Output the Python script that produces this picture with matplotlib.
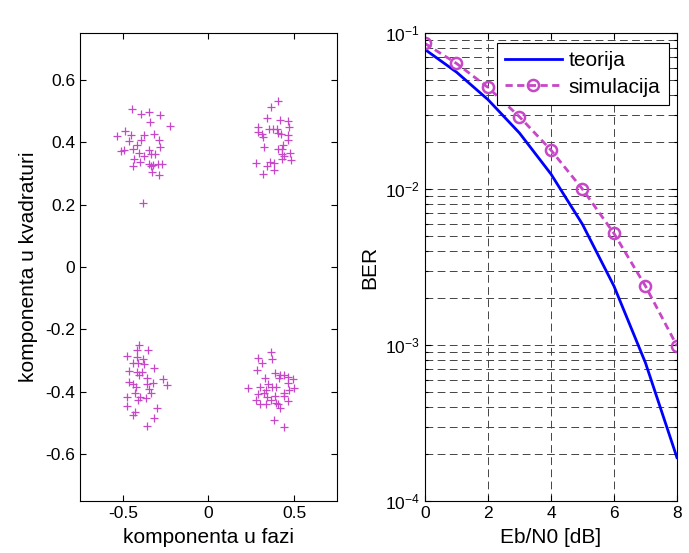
import numpy as np
import matplotlib
matplotlib.use("Agg")
import matplotlib.pyplot as plt
from matplotlib.ticker import LogLocator, NullFormatter

plt.rcParams['font.family'] = ['Liberation Sans', 'DejaVu Sans']
plt.rcParams['mathtext.fontset'] = 'custom'
plt.rcParams['mathtext.rm'] = 'Liberation Sans'
plt.rcParams['mathtext.it'] = 'Liberation Sans:italic'
plt.rcParams['mathtext.bf'] = 'Liberation Sans:bold'

# Received QPSK symbols (in-phase, quadrature)
i_comp = [
    # upper-left cluster
    -0.445, -0.396, -0.349, -0.282, -0.339, -0.224, -0.486, -0.534, -0.455, -0.375,
    -0.318, -0.392, -0.463, -0.290, -0.419, -0.282, -0.510, -0.494, -0.443, -0.404,
    -0.349, -0.334, -0.312, -0.378, -0.435, -0.398, -0.347, -0.324, -0.296, -0.271,
    -0.443, -0.337, -0.331, -0.290, -0.381,
    # upper-right cluster
    0.404, 0.365, 0.341, 0.419, 0.463, 0.290, 0.469, 0.351, 0.376, 0.400,
    0.290, 0.314, 0.408, 0.424, 0.463, 0.318, 0.463, 0.434, 0.322, 0.404,
    0.431, 0.429, 0.475, 0.443, 0.428, 0.484, 0.275, 0.357, 0.384, 0.341,
    0.381, 0.316,
    # lower-left cluster
    -0.404, -0.419, -0.355, -0.478, -0.419, -0.381, -0.443, -0.412, -0.376, -0.318,
    -0.463, -0.416, -0.388, -0.404, -0.357, -0.263, -0.466, -0.439, -0.357, -0.325,
    -0.243, -0.424, -0.345, -0.431, -0.337, -0.475, -0.400, -0.365, -0.412, -0.478,
    -0.302, -0.428, -0.439, -0.318, -0.357,
    # lower-right cluster
    0.365, 0.290, 0.372, 0.310, 0.282, 0.388, 0.419, 0.443, 0.412, 0.466,
    0.329, 0.494, 0.349, 0.463, 0.231, 0.298, 0.369, 0.396, 0.498, 0.471,
    0.337, 0.325, 0.443, 0.290, 0.388, 0.439, 0.341, 0.278, 0.365, 0.466,
    0.298, 0.334, 0.392, 0.404, 0.416, 0.384, 0.443,
]
q_comp = [
    0.506, 0.491, 0.498, 0.488, 0.466, 0.454, 0.436, 0.420, 0.424, 0.424,
    0.427, 0.409, 0.405, 0.409, 0.392, 0.386, 0.372, 0.374, 0.378, 0.366,
    0.375, 0.364, 0.363, 0.355, 0.345, 0.338, 0.332, 0.327, 0.330, 0.330,
    0.324, 0.323, 0.304, 0.294, 0.206,
    0.533, 0.513, 0.478, 0.471, 0.468, 0.449, 0.449, 0.442, 0.443, 0.444,
    0.432, 0.427, 0.430, 0.427, 0.423, 0.416, 0.406, 0.393, 0.386, 0.380,
    0.380, 0.364, 0.365, 0.356, 0.348, 0.343, 0.333, 0.337, 0.334, 0.324,
    0.311, 0.298,
    -0.251, -0.265, -0.266, -0.284, -0.288, -0.296, -0.309, -0.309, -0.311, -0.322,
    -0.333, -0.335, -0.335, -0.346, -0.354, -0.358, -0.369, -0.376, -0.374, -0.371,
    -0.379, -0.386, -0.392, -0.404, -0.403, -0.416, -0.416, -0.419, -0.427, -0.446,
    -0.451, -0.464, -0.474, -0.483, -0.509,
    -0.271, -0.290, -0.296, -0.307, -0.331, -0.341, -0.346, -0.346, -0.354, -0.352,
    -0.356, -0.359, -0.374, -0.371, -0.388, -0.384, -0.384, -0.384, -0.388, -0.395,
    -0.395, -0.404, -0.404, -0.408, -0.412, -0.414, -0.416, -0.427, -0.427, -0.429,
    -0.438, -0.438, -0.436, -0.440, -0.451, -0.490, -0.513,
]

# BER curves
ebn0_db = [0, 1, 2, 3, 4, 5, 6, 7, 8]
ber_teorija = [0.0786, 0.0563, 0.0375, 0.0229, 0.0125, 0.00595, 0.00239, 0.00077, 0.00019]
ber_simulacija = [0.0859, 0.0640, 0.0449, 0.0291, 0.0178, 0.0100, 0.0052, 0.00239, 0.00099]

magenta = '#c846c8'

fig = plt.figure(figsize=(6.89, 5.53), dpi=100)
ax1 = fig.add_axes([0.1161, 0.094, 0.373, 0.846])
ax2 = fig.add_axes([0.6168, 0.094, 0.3657, 0.846])

# constellation
ax1.plot(i_comp, q_comp, '+', color=magenta, markersize=5.5, markeredgewidth=0.9)
ax1.set_xlim(-0.75, 0.75)
ax1.set_ylim(-0.75, 0.75)
ax1.set_xticks([-0.5, 0, 0.5])
ax1.set_xticklabels(['-0.5', '0', '0.5'])
ax1.set_yticks([-0.6, -0.4, -0.2, 0, 0.2, 0.4, 0.6])
ax1.set_yticklabels(['-0.6', '-0.4', '-0.2', '0', '0.2', '0.4', '0.6'])
ax1.set_xlabel('komponenta u fazi', fontsize=15, labelpad=5)
ax1.set_ylabel('komponenta u kvadraturi', fontsize=15, labelpad=5)

# BER
ax2.semilogy(ebn0_db, ber_teorija, '-', color='#0000ff', linewidth=2, label='teorija')
ax2.semilogy(ebn0_db, ber_simulacija, '--o', color=magenta, linewidth=2,
             markersize=8, markerfacecolor='none', markeredgewidth=1.8,
             dashes=(2.6, 1.6), label='simulacija')
ax2.set_xlim(0, 8)
ax2.set_ylim(1e-4, 1e-1)
ax2.set_xticks([0, 2, 4, 6, 8])
ax2.yaxis.set_minor_locator(LogLocator(base=10, subs=np.arange(2, 10)))
ax2.yaxis.set_minor_formatter(NullFormatter())
ax2.grid(True, which='both', linestyle=(0, (8, 4.5)), color='#444444', linewidth=0.7)
ax2.set_xlabel('Eb/N0 [dB]', fontsize=15, labelpad=5)
ax2.set_ylabel('BER', fontsize=15, labelpad=4)
leg = ax2.legend(loc='upper right', bbox_to_anchor=(0.968, 0.979), borderaxespad=0,
                 fontsize=15, fancybox=False, edgecolor='black', framealpha=1,
                 handlelength=2.7, handletextpad=0.35, borderpad=0.4,
                 labelspacing=0.35)
leg.get_frame().set_linewidth(0.8)

for ax in (ax1, ax2):
    ax.tick_params(which='both', direction='in', top=True, right=True,
                   labelsize=12.5, width=0.8)
    ax.tick_params(which='major', length=4)
    ax.tick_params(which='minor', length=2.5)
    for s in ax.spines.values():
        s.set_linewidth(0.8)

plt.savefig('out.png', dpi=100)
